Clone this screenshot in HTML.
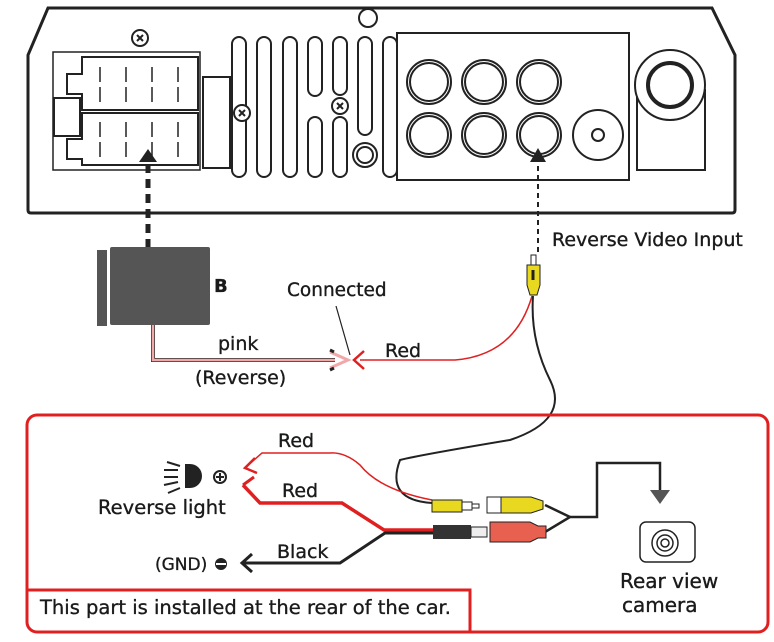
<!DOCTYPE html><html><head><style>body{margin:0;background:#fff}svg{display:block}text{font-family:"DejaVu Sans","Liberation Sans",sans-serif;fill:#1a1a1a;stroke:#1a1a1a;stroke-width:0.35}</style></head><body>
<svg width="774" height="642" viewBox="0 0 774 642" xmlns="http://www.w3.org/2000/svg">
<g fill="none" stroke="#222" stroke-width="2">
<path d="M48,8 L712,8 L735,55 L735,210 Q735,213 732,213 L31,213 Q28,213 28,210 L28,55 Z" stroke-width="3"/>
<circle cx="368" cy="18" r="9"/>
<circle cx="140" cy="38" r="8"/><path d="M137,35l6,6M143,35l-6,6"/>
<rect x="53" y="52" width="147" height="118" stroke-width="1.5"/>
<path d="M82,57h116v53h-116v-16h-15v-20h15z"/>
<path d="M82,113h116v52h-116v-6h-15v-20h15z"/>
<rect x="54" y="98" width="26" height="38"/>
<g stroke-width="1.5"><path d="M100,67v15M126,67v15M152,67v15M178,67v15M100,87v15M126,87v15M152,87v15M178,87v15M100,122v15M126,122v15M152,122v15M178,122v15M100,142v15M126,142v15M152,142v15M178,142v15"/></g>
<rect x="203" y="77" width="27" height="91"/>
<rect x="232" y="37" width="14" height="140" rx="7"/>
<rect x="257" y="37" width="14" height="140" rx="7"/>
<rect x="283" y="37" width="14" height="140" rx="7"/>
<rect x="308" y="37" width="14" height="59" rx="7"/><rect x="308" y="117" width="14" height="60" rx="7"/>
<rect x="333" y="37" width="14" height="58" rx="7"/><rect x="333" y="117" width="14" height="60" rx="7"/>
<rect x="358" y="37" width="14" height="98" rx="7"/>
<circle cx="365" cy="155" r="12"/><circle cx="365" cy="155" r="8"/>
<rect x="383" y="37" width="14" height="140" rx="7"/>
<circle cx="242" cy="113" r="8" fill="#fff"/><path d="M239,110l6,6M245,110l-6,6"/>
<circle cx="340" cy="106" r="8" fill="#fff"/><path d="M337,103l6,6M343,103l-6,6"/>
<rect x="397" y="33" width="232" height="147"/>
<g><circle cx="429" cy="82" r="22"/><circle cx="429" cy="82" r="19"/><circle cx="484" cy="82" r="22"/><circle cx="484" cy="82" r="19"/><circle cx="539" cy="82" r="22"/><circle cx="539" cy="82" r="19"/><circle cx="429" cy="135" r="22"/><circle cx="429" cy="135" r="19"/><circle cx="484" cy="135" r="22"/><circle cx="484" cy="135" r="19"/><circle cx="539" cy="135" r="22"/><circle cx="539" cy="135" r="19"/></g>
<circle cx="598" cy="135" r="25"/><circle cx="598" cy="135" r="6"/>
<rect x="637" y="90" width="68" height="80"/>
<circle cx="670" cy="85" r="35" fill="#fff"/><circle cx="670" cy="85" r="22" stroke-width="4"/>
</g>
<path d="M148,248V160" stroke="#222" stroke-width="5" stroke-dasharray="9,6"/>
<path d="M139,162l9,-13l9,13z" fill="#222"/>
<path d="M538,252V158" stroke="#222" stroke-width="2" stroke-dasharray="5,4"/>
<path d="M530,162l8,-14l8,14z" fill="#222"/>
<text x="552" y="246" font-size="19">Reverse Video Input</text>
<rect x="97" y="250" width="10" height="76" fill="#555"/>
<rect x="110" y="247" width="100" height="78" rx="2" fill="#555"/>
<text x="214" y="292" font-size="18" font-weight="bold">B</text>
<path d="M153,325V360H335" fill="none" stroke="#333" stroke-width="4"/>
<path d="M153,325V360H335" fill="none" stroke="#f0a8a8" stroke-width="2.5"/>
<path d="M330,352l18,8l-18,8" fill="none" stroke="#f0a8a8" stroke-width="3"/>
<path d="M330,350l4,2M330,370l4,-2" stroke="#222" stroke-width="3"/>
<path d="M336,306L350,355" stroke="#222" stroke-width="1.2"/>
<text x="287" y="296" font-size="18.5">Connected</text>
<text x="218" y="350" font-size="19">pink</text>
<text x="195" y="384" font-size="19">(Reverse)</text>
<path d="M360,360H455Q515,355 532,296" fill="none" stroke="#e02020" stroke-width="1.5"/>
<path d="M364,351l-10,9l10,9" fill="none" stroke="#e02020" stroke-width="2.5"/>
<text x="385" y="357" font-size="19">Red</text>
<rect x="531" y="255" width="5" height="10" fill="#fff" stroke="#222"/>
<path d="M527,265h13v20l-3,10h-7l-3,-10z" fill="#e8d820" stroke="#222"/>
<path d="M533,270v10" stroke="#222" stroke-width="3"/>
<path d="M533,296Q530,340 550,380Q570,420 510,440Q420,455 400,460Q385,500 432,503" fill="none" stroke="#222" stroke-width="2"/>
<rect x="27" y="415" width="741" height="217" rx="10" fill="none" stroke="#e02020" stroke-width="3"/>
<path d="M27,590H470V632" fill="none" stroke="#e02020" stroke-width="3"/>
<text x="40" y="614" font-size="19.5">This part is installed at the rear of the car.</text>
<path d="M432,500Q380,490 360,465Q345,452 330,453H262L245,468" fill="none" stroke="#e02020" stroke-width="1.5"/>
<path d="M255,458l-10,10l12,5" fill="none" stroke="#e02020" stroke-width="2.5"/>
<path d="M435,530H384L342,503H260L243,485" fill="none" stroke="#e02020" stroke-width="3.5"/>
<path d="M254,477l-11,8" fill="none" stroke="#e02020" stroke-width="3"/>
<path d="M435,533H385L340,563H242" fill="none" stroke="#222" stroke-width="3"/>
<path d="M252,554l-10,9l10,9" fill="none" stroke="#222" stroke-width="3"/>
<text x="278" y="447" font-size="19">Red</text>
<text x="282" y="497" font-size="19">Red</text>
<text x="277" y="558" font-size="19">Black</text>
<text x="98" y="514" font-size="19.5">Reverse light</text>
<text x="155" y="570" font-size="17">(GND)</text>
<circle cx="221" cy="564" r="6" fill="#222"/><rect x="216" y="563" width="10" height="2" fill="#fff"/>
<path d="M185,464h5a12,12 0 0 1 0,24h-5z" fill="#222"/>
<path d="M167,462l13,4M164,470h14M164,477h14M164,485l14,-3M168,493l12,-5" stroke="#222" stroke-width="2"/>
<circle cx="220" cy="477" r="6" fill="none" stroke="#222" stroke-width="2"/><path d="M216,477h8M220,473v8" stroke="#222" stroke-width="2"/>
<path d="M432,500h30v12h-30z" fill="#e8d820" stroke="#222"/>
<rect x="462" y="502" width="10" height="8" fill="#fff" stroke="#222"/>
<rect x="472" y="504" width="7" height="4" fill="#fff" stroke="#222"/>
<rect x="487" y="497" width="14" height="16" fill="#fff" stroke="#222"/>
<path d="M501,497h30l12,4v8l-12,4h-30z" fill="#e8d820" stroke="#222"/>
<path d="M545,505L570,517L545,532" fill="none" stroke="#222" stroke-width="2.5"/>
<rect x="433" y="525" width="38" height="14" fill="#333"/>
<rect x="471" y="527" width="16" height="10" fill="#eee" stroke="#222"/>
<path d="M490,522h40l8,4h8v12h-8l-8,4h-40z" fill="#e86050" stroke="#222"/>
<path d="M570,517H597V463H660V495" fill="none" stroke="#222" stroke-width="2.5"/>
<path d="M650,490h20l-10,14z" fill="#555"/>
<rect x="640" y="522" width="55" height="40" rx="6" fill="#fff" stroke="#222" stroke-width="1.5"/>
<circle cx="665" cy="543" r="13" fill="none" stroke="#222" stroke-width="1.5"/><circle cx="665" cy="543" r="8" fill="none" stroke="#222" stroke-width="1.5"/><circle cx="665" cy="543" r="4" fill="none" stroke="#222" stroke-width="1.5"/>
<text x="620" y="588" font-size="20">Rear view</text>
<text x="622" y="612" font-size="20">camera</text>
</svg></body></html>
